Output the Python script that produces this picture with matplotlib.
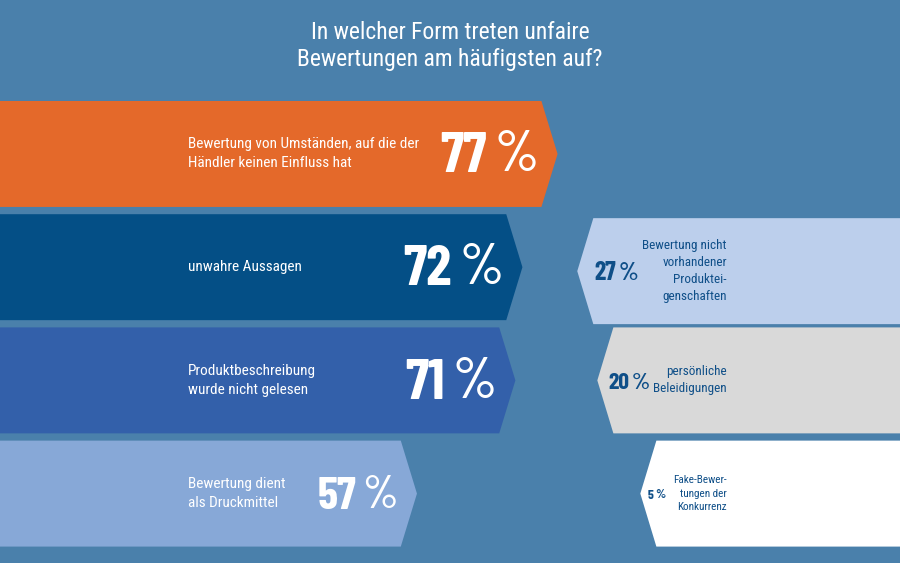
import numpy as np
import matplotlib
matplotlib.use('Agg')
import matplotlib.pyplot as plt
from matplotlib.patches import Polygon

# data
left_labels = ['Bewertung von Umständen, auf die der\nHändler keinen Einfluss hat',
               'unwahre Aussagen',
               'Produktbeschreibung\nwurde nicht gelesen',
               'Bewertung dient\nals Druckmittel']
left_values = [77, 72, 71, 57]

right_labels = ['Bewertung nicht\nvorhandener\nProduktei-\ngenschaften',
                'persönliche\nBeleidigungen',
                'Fake-Bewer-\ntungen der\nKonkurrenz']
right_values = [27, 20, 5]

title = 'In welcher Form treten unfaire\nBewertungen am häufigsten auf?'

# styles
bg = '#4a80ab'
left_colors = ['#e4692a', '#044f86', '#3360aa', '#87a8d7']
right_colors = ['#bccfec', '#d9d9d9', '#ffffff']
right_text = '#0f4f88'
txt_font = ['Roboto Condensed', 'DejaVu Sans']
num_font = ['Barlow Condensed', 'DejaVu Sans']

fig = plt.figure(figsize=(9, 5.63), dpi=100)
fig.patch.set_facecolor(bg)

h = 0.936

# left bars, x in percent
axl = fig.add_axes([0, 0, 1, 1])
axl.set_xlim(0, 128)
axl.set_ylim(3.613, -1.36)
axl.axis('off')
tip = 2.3
left_num_size = [41, 41, 41, 33]
for i, (v, lab, c, ns) in enumerate(zip(left_values, left_labels, left_colors, left_num_size)):
    pts = [(-5, i - h/2), (v, i - h/2), (v + tip, i), (v, i + h/2), (-5, i + h/2)]
    axl.add_patch(Polygon(pts, closed=True, facecolor=c, edgecolor='none'))
    axl.text(26.7, i, lab, color='white', fontsize=11, family=txt_font,
             ha='left', va='center', linespacing=1.45)
    pct = axl.text(v - 0.4, i + 0.02, '%', color='white', fontsize=ns, family=num_font,
                   weight='medium', ha='right', va='center')
    axl.annotate(str(v), xy=(0, 0), xycoords=pct, xytext=(-ns * 0.14, 0),
                 textcoords='offset points', color='white', fontsize=ns,
                 family=num_font, weight='bold', ha='right', va='bottom')

# right bars, x in percent, growing leftwards from the right edge
axr = fig.add_axes([0, 0, 1, 1])
axr.set_xlim(234, -80)
axr.set_ylim(3.613, -1.36)
axr.axis('off')
rtip = 5.6
rows = [1.035, 2, 3]
pct_size = [18.5, 17, 9.5]
lab_size = [9.5, 9.5, 8]
pct_off = [-0.2, 1.9, 2.9]
for y, v, lab, c, ps, ls, po in zip(rows, right_values, right_labels, right_colors,
                                     pct_size, lab_size, pct_off):
    pts = [(-90, y - h/2), (v, y - h/2), (v + rtip, y), (v, y + h/2), (-90, y + h/2)]
    axr.add_patch(Polygon(pts, closed=True, facecolor=c, edgecolor='none'))
    num = axr.text(v + po, y + 0.02, str(v), color=right_text, fontsize=ps,
                   family=num_font, weight='bold', ha='left', va='center')
    axr.annotate('%', xy=(1, 0), xycoords=num, xytext=(ps * 0.14, 0),
                 textcoords='offset points', color=right_text, fontsize=ps,
                 family=num_font, weight='semibold', ha='left', va='bottom')
    axr.text(-19.6, y, lab, color=right_text, fontsize=ls, family=txt_font,
             ha='right', va='center', linespacing=1.4)

fig.text(0.5, 0.918, title, color='white', fontsize=17, family=txt_font,
         ha='center', va='center', linespacing=1.2)

fig.savefig('out.png', dpi=100, facecolor=bg)
